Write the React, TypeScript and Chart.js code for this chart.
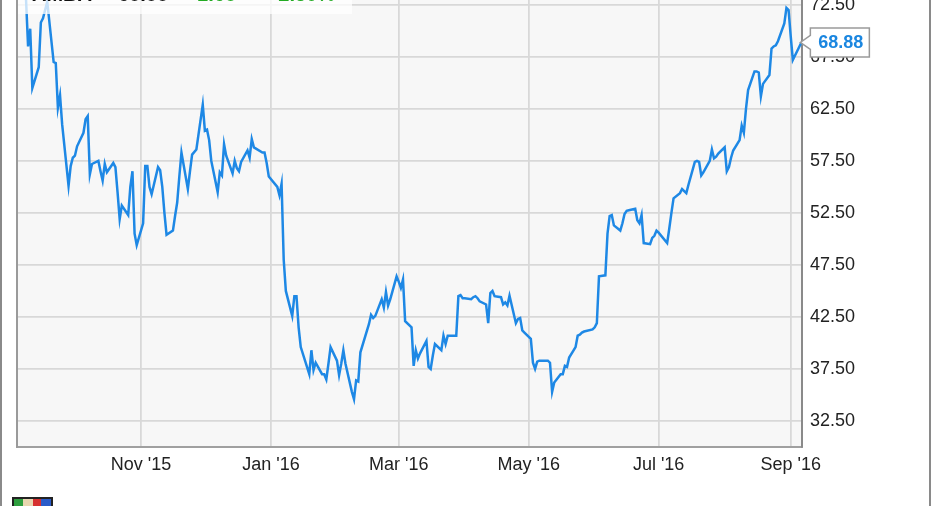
import { useEffect, useRef } from "react";
import { Chart, registerables } from "chart.js";

Chart.register(...registerables);

// Daily closing prices, AMBA
const tradeDates = [
  "2015-09-08", "2015-09-09", "2015-09-10", "2015-09-11", "2015-09-14", "2015-09-15", "2015-09-16", "2015-09-17", "2015-09-18",
  "2015-09-21", "2015-09-22", "2015-09-23", "2015-09-24", "2015-09-25", "2015-09-28", "2015-09-29", "2015-09-30", "2015-10-01",
  "2015-10-02", "2015-10-05", "2015-10-06", "2015-10-07", "2015-10-08", "2015-10-09", "2015-10-12", "2015-10-13", "2015-10-14",
  "2015-10-15", "2015-10-16", "2015-10-19", "2015-10-20", "2015-10-21", "2015-10-22", "2015-10-23", "2015-10-26", "2015-10-27",
  "2015-10-28", "2015-10-29", "2015-10-30", "2015-11-02", "2015-11-03", "2015-11-04", "2015-11-05", "2015-11-06", "2015-11-09",
  "2015-11-10", "2015-11-11", "2015-11-12", "2015-11-13", "2015-11-16", "2015-11-17", "2015-11-18", "2015-11-19", "2015-11-20",
  "2015-11-23", "2015-11-24", "2015-11-25", "2015-11-27", "2015-11-30", "2015-12-01", "2015-12-02", "2015-12-03", "2015-12-04",
  "2015-12-07", "2015-12-08", "2015-12-09", "2015-12-10", "2015-12-11", "2015-12-14", "2015-12-15", "2015-12-16", "2015-12-17",
  "2015-12-18", "2015-12-21", "2015-12-22", "2015-12-23", "2015-12-24", "2015-12-28", "2015-12-29", "2015-12-30", "2015-12-31",
  "2016-01-04", "2016-01-05", "2016-01-06", "2016-01-07", "2016-01-08", "2016-01-11", "2016-01-12", "2016-01-13", "2016-01-14",
  "2016-01-15", "2016-01-19", "2016-01-20", "2016-01-21", "2016-01-22", "2016-01-25", "2016-01-26", "2016-01-27", "2016-01-28",
  "2016-01-29", "2016-02-01", "2016-02-02", "2016-02-03", "2016-02-04", "2016-02-05", "2016-02-08", "2016-02-09", "2016-02-10",
  "2016-02-11", "2016-02-12", "2016-02-16", "2016-02-17", "2016-02-18", "2016-02-19", "2016-02-22", "2016-02-23", "2016-02-24",
  "2016-02-25", "2016-02-26", "2016-02-29", "2016-03-01", "2016-03-02", "2016-03-03", "2016-03-04", "2016-03-07", "2016-03-08",
  "2016-03-09", "2016-03-10", "2016-03-11", "2016-03-14", "2016-03-15", "2016-03-16", "2016-03-17", "2016-03-18", "2016-03-21",
  "2016-03-22", "2016-03-23", "2016-03-24", "2016-03-28", "2016-03-29", "2016-03-30", "2016-03-31", "2016-04-01", "2016-04-04",
  "2016-04-05", "2016-04-06", "2016-04-07", "2016-04-08", "2016-04-11", "2016-04-12", "2016-04-13", "2016-04-14", "2016-04-15",
  "2016-04-18", "2016-04-19", "2016-04-20", "2016-04-21", "2016-04-22", "2016-04-25", "2016-04-26", "2016-04-27", "2016-04-28",
  "2016-04-29", "2016-05-02", "2016-05-03", "2016-05-04", "2016-05-05", "2016-05-06", "2016-05-09", "2016-05-10", "2016-05-11",
  "2016-05-12", "2016-05-13", "2016-05-16", "2016-05-17", "2016-05-18", "2016-05-19", "2016-05-20", "2016-05-23", "2016-05-24",
  "2016-05-25", "2016-05-26", "2016-05-27", "2016-05-31", "2016-06-01", "2016-06-02", "2016-06-03", "2016-06-06", "2016-06-07",
  "2016-06-08", "2016-06-09", "2016-06-10", "2016-06-13", "2016-06-14", "2016-06-15", "2016-06-16", "2016-06-17", "2016-06-20",
  "2016-06-21", "2016-06-22", "2016-06-23", "2016-06-24", "2016-06-27", "2016-06-28", "2016-06-29", "2016-06-30", "2016-07-01",
  "2016-07-05", "2016-07-06", "2016-07-07", "2016-07-08", "2016-07-11", "2016-07-12", "2016-07-13", "2016-07-14", "2016-07-15",
  "2016-07-18", "2016-07-19", "2016-07-20", "2016-07-21", "2016-07-22", "2016-07-25", "2016-07-26", "2016-07-27", "2016-07-28",
  "2016-07-29", "2016-08-01", "2016-08-02", "2016-08-03", "2016-08-04", "2016-08-05", "2016-08-08", "2016-08-09", "2016-08-10",
  "2016-08-11", "2016-08-12", "2016-08-15", "2016-08-16", "2016-08-17", "2016-08-18", "2016-08-19", "2016-08-22", "2016-08-23",
  "2016-08-24", "2016-08-25", "2016-08-26", "2016-08-29", "2016-08-30", "2016-08-31", "2016-09-01", "2016-09-02", "2016-09-06",
];

const closes = [
  73.2, 68.5, 70.2, 64.5, 66.5, 70.8, 71.2, 72.0, 72.8,
  67.0, 66.9, 62.6, 63.8, 61.0, 55.1, 57.0, 57.8, 58.0,
  58.9, 60.2, 61.5, 61.8, 56.2, 57.2, 57.5, 56.5, 55.6,
  57.2, 56.4, 57.3, 56.9, 54.5, 51.9, 53.2, 52.3, 55.0,
  56.5, 50.5, 49.4, 51.5, 57.0, 57.0, 55.0, 54.3, 56.9,
  56.6, 55.0, 52.5, 50.4, 50.8, 52.2, 53.5, 56.0, 58.3,
  54.8, 56.5, 58.1, 58.6, 62.9, 60.4, 60.5, 59.5, 57.5,
  54.5, 56.4, 56.1, 59.1, 58.0, 56.3, 57.5, 56.8, 56.5,
  57.4, 58.5, 57.8, 59.6, 58.8, 58.3, 58.3, 57.3, 56.0,
  55.0, 54.2, 55.3, 48.0, 45.0, 42.6, 44.5, 44.5, 41.5,
  39.6, 37.0, 39.3, 37.4, 38.1, 37.0, 37.0, 36.5, 38.0,
  39.6, 38.3, 36.9, 38.0, 39.3, 38.0, 35.3, 34.6, 36.4,
  36.3, 39.1, 41.8, 42.7, 42.4, 42.6, 44.2, 43.4, 44.9,
  43.6, 44.2, 46.4, 45.9, 45.3, 46.1, 42.1, 41.5, 37.8,
  39.3, 38.5, 39.0, 40.2, 37.7, 37.5, 38.8, 39.9, 39.3,
  40.7, 39.9, 40.7, 40.7, 44.5, 44.6, 44.3, 44.3, 44.2,
  44.4, 44.5, 44.3, 44.0, 43.7, 41.9, 44.8, 45.0, 44.5,
  44.4, 43.7, 43.9, 43.6, 44.55, 41.9, 42.3, 42.4, 41.2,
  41.0, 40.4, 38.1, 37.5, 38.2, 38.3, 38.3, 38.3, 38.1,
  35.3, 36.2, 37.0, 37.0, 37.8, 37.7, 38.6, 39.6, 40.7,
  40.8, 41.0, 41.1, 41.3, 41.5, 41.9, 46.4, 46.5, 50.5,
  52.2, 52.3, 51.3, 50.8, 51.5, 52.4, 52.7, 52.75, 52.9,
  51.8, 51.5, 52.3, 49.6, 49.5, 50.1, 50.3, 50.8, 50.6,
  49.6, 51.0, 52.5, 53.9, 54.4, 54.8, 54.6, 54.4, 55.2,
  57.4, 57.5, 57.4, 56.1, 56.4, 57.5, 58.6, 57.75, 57.9,
  58.2, 58.8, 56.5, 56.9, 57.8, 58.5, 59.5, 60.9, 60.2,
  62.5, 64.3, 66.1, 66.1, 66.0, 63.7, 64.9, 65.75, 68.3,
  68.5, 68.6, 69.0, 70.7, 72.2, 72.0, 69.5, 67.2, 68.88,
];

const priceTicks = [32.5, 37.5, 42.5, 47.5, 52.5, 57.5, 62.5, 67.5, 72.5];
const monthTickDates = ["2015-11-01", "2016-01-01", "2016-03-01", "2016-05-01", "2016-07-01", "2016-09-01"];
const monthTickLabels = ["Nov '15", "Jan '16", "Mar '16", "May '16", "Jul '16", "Sep '16"];

const ticker = "AMBA";
const changeText = "+1.68";
const changePctText = "2.50%";

const HIDDEN_TOP = 40;
const W = 931;
const H = 506 + HIDDEN_TOP;

const ORIGIN = Date.UTC(2016, 0, 1);
function dayNum(s: string): number {
  const [y, m, d] = s.split("-").map(Number);
  return (Date.UTC(y, m - 1, d) - ORIGIN) / 86400000;
}

const LINE_BLUE = "#1e88e5";

const framePlugin = {
  id: "frame",
  beforeDraw(chart: any) {
    const { ctx, chartArea: a } = chart;
    ctx.save();
    ctx.fillStyle = "#ffffff";
    ctx.fillRect(0, 0, W, H);
    ctx.fillStyle = "#f7f7f7";
    ctx.fillRect(a.left, a.top, a.right - a.left, a.bottom - a.top);
    ctx.restore();
  },
  afterDatasetsDraw(chart: any) {
    const { ctx, chartArea: a } = chart;
    ctx.save();
    // translucent header box over the top-left of the plot
    ctx.fillStyle = "rgba(255,255,255,0.75)";
    ctx.fillRect(a.left, 0, 352 - a.left, HIDDEN_TOP + 14);
    const base = HIDDEN_TOP + 1;
    ctx.font = "bold 20px Arial, 'Liberation Sans', sans-serif";
    ctx.textBaseline = "alphabetic";
    ctx.fillStyle = "#111";
    ctx.textAlign = "left";
    ctx.fillText(ticker, 32, base);
    ctx.textAlign = "right";
    ctx.fillText(closes[closes.length - 1].toFixed(2), 168, base);
    ctx.fillStyle = "#22aa22";
    ctx.fillText(changeText, 236, base);
    ctx.fillText(changePctText, 335, base);

    // left border of the plot
    ctx.strokeStyle = "#9a9a9a";
    ctx.lineWidth = 2;
    ctx.beginPath();
    ctx.moveTo(a.left, 0);
    ctx.lineTo(a.left, a.bottom + 1);
    ctx.stroke();
    ctx.restore();
  },
  afterDraw(chart: any) {
    const { ctx } = chart;
    const meta = chart.getDatasetMeta(0);
    const last = meta.data[meta.data.length - 1];
    ctx.save();
    // last-value callout
    const tipX = last.x - 1;
    const tipY = last.y;
    const bx = tipX + 10;
    const bw = 59;
    const bh = 29;
    const by = tipY - bh / 2;
    ctx.beginPath();
    ctx.moveTo(bx, by);
    ctx.lineTo(bx + bw, by);
    ctx.lineTo(bx + bw, by + bh);
    ctx.lineTo(bx, by + bh);
    ctx.lineTo(bx, tipY + 7);
    ctx.lineTo(tipX, tipY);
    ctx.lineTo(bx, tipY - 7);
    ctx.closePath();
    ctx.fillStyle = "#ffffff";
    ctx.fill();
    ctx.strokeStyle = "#9a9a9a";
    ctx.lineWidth = 1.5;
    ctx.stroke();
    ctx.fillStyle = "#1a86e0";
    ctx.font = "bold 18px Arial, 'Liberation Sans', sans-serif";
    ctx.textAlign = "center";
    ctx.textBaseline = "middle";
    ctx.fillText(closes[closes.length - 1].toFixed(2), bx + bw / 2 + 1, tipY + 1);

    // outer frame
    ctx.strokeStyle = "#8a8a8a";
    ctx.lineWidth = 2;
    ctx.beginPath();
    ctx.moveTo(1, 0);
    ctx.lineTo(1, H);
    ctx.moveTo(W - 1, 0);
    ctx.lineTo(W - 1, H);
    ctx.stroke();

    // small brand mark
    const lx = 12;
    const ly = HIDDEN_TOP + 497;
    ctx.fillStyle = "#222";
    ctx.fillRect(lx, ly, 41, 12);
    ctx.fillStyle = "#2e9e3e";
    ctx.fillRect(lx + 2, ly + 2, 9, 10);
    ctx.fillStyle = "#e8d6b0";
    ctx.fillRect(lx + 11, ly + 2, 10, 10);
    ctx.fillStyle = "#d63030";
    ctx.fillRect(lx + 21, ly + 2, 8, 10);
    ctx.fillStyle = "#2a5bc8";
    ctx.fillRect(lx + 29, ly + 2, 10, 10);
    ctx.restore();
  },
};

export default function App() {
  const canvasRef = useRef<HTMLCanvasElement>(null);

  useEffect(() => {
    const canvas = canvasRef.current;
    if (!canvas) return;
    const points = tradeDates.map((d, i) => ({ x: dayNum(d), y: closes[i] }));
    const monthTickDays = monthTickDates.map(dayNum);
    const labelFor = new Map<number, string>();
    monthTickDays.forEach((d, i) => labelFor.set(d, monthTickLabels[i]));

    const chart = new Chart(canvas, {
      type: "line",
      data: {
        datasets: [
          {
            data: points,
            borderColor: LINE_BLUE,
            borderWidth: 2.5,
            pointRadius: 0,
            tension: 0,
            fill: false,
          },
        ],
      },
      options: {
        animation: false,
        responsive: false,
        devicePixelRatio: 1,
        parsing: false as any,
        layout: { padding: { left: 17, top: 13, right: 0, bottom: 0 } },
        plugins: {
          legend: { display: false },
          tooltip: { enabled: false },
        },
        scales: {
          x: {
            type: "linear",
            min: -119.2,
            max: 249.3,
            afterFit(scale: any) {
              scale.height = H - (HIDDEN_TOP + 447);
            },
            afterBuildTicks(scale: any) {
              scale.ticks = monthTickDays.map((v) => ({ value: v }));
            },
            grid: { color: "#d8d8d8", lineWidth: 1.8, drawTicks: false },
            border: { display: true, color: "#a0a0a0", width: 2 },
            ticks: {
              autoSkip: false,
              maxRotation: 0,
              padding: 7,
              color: "#222",
              font: { family: "Arial, 'Liberation Sans', sans-serif", size: 18 },
              callback: (v: any) => labelFor.get(Number(v)) ?? "",
            },
          },
          y: {
            position: "right",
            min: 30,
            max: 75,
            afterFit(scale: any) {
              scale.width = W - 802;
            },
            afterBuildTicks(scale: any) {
              scale.ticks = priceTicks.map((v) => ({ value: v }));
            },
            grid: { color: "#d8d8d8", lineWidth: 1.8, drawTicks: false },
            border: { display: true, color: "#8a8a8a", width: 2 },
            ticks: {
              padding: 8,
              color: "#222",
              font: { family: "Arial, 'Liberation Sans', sans-serif", size: 18 },
              callback: (v: any) => Number(v).toFixed(2),
            },
          },
        },
      },
      plugins: [framePlugin],
    });
    return () => chart.destroy();
  }, []);

  return (
    <div
      style={{
        position: "absolute",
        left: 0,
        top: 0,
        width: W,
        height: 506,
        overflow: "hidden",
        background: "#fff",
      }}
    >
      <canvas
        ref={canvasRef}
        width={W}
        height={H}
        style={{ position: "absolute", left: 0, top: -HIDDEN_TOP, width: W, height: H }}
      />
    </div>
  );
}
